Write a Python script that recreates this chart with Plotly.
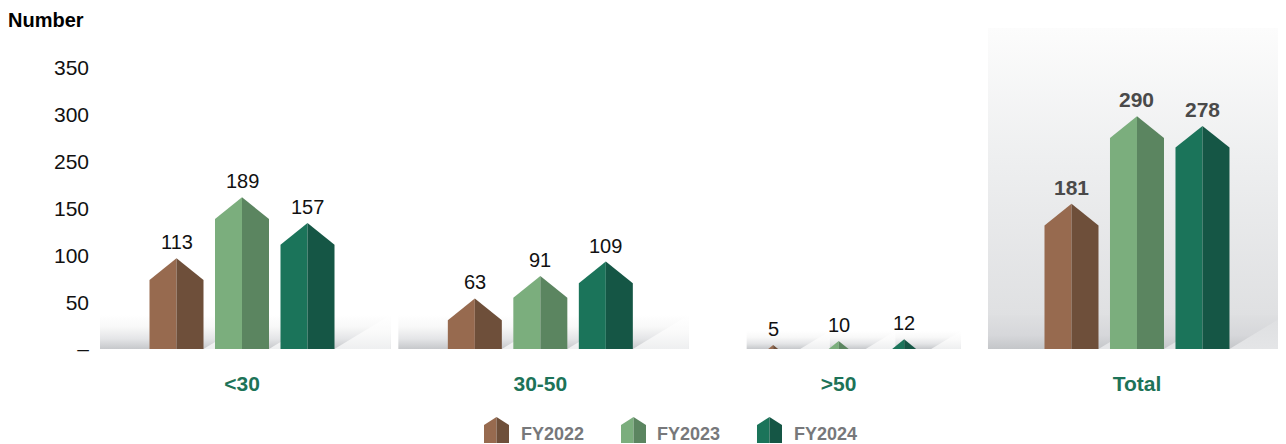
import plotly.graph_objects as go

# ---------------- data ----------------
categories = ["<30", "30-50", ">50", "Total"]
series_names = ["FY2022", "FY2023", "FY2024"]
fy2022 = [113, 63, 5, 181]
fy2023 = [189, 91, 10, 290]
fy2024 = [157, 109, 12, 278]
y_tick_labels = ["–", "50", "100", "150", "250", "300", "350"]
y_tick_top = 350

series_values = [fy2022, fy2023, fy2024]

# ---------------- styles / layout constants ----------------
OFF = 8                               # page body margin offset
W, H = 1286 - OFF, 444 - OFF
ML, MR, MT, MB = 100 - OFF, 0, 28 - OFF, 444 - 349
PW, PH = W - ML - MR, H - MT - MB
Y_MAX = 400
PXY = PH / Y_MAX                     # pixels per y unit
GROUP_PX = 298.33                    # pixels per category step
X0 = -(242 - 100) / GROUP_PX
X1 = X0 + PW / GROUP_PX

def dx(p):
    return p / GROUP_PX

def dy(p):
    return p / PXY

BAR_OFFSET = dx(65.5)
BAR_HALF = dx(27)
ROOF_H = dy(21.7)

LIGHT = ["#976a4f", "#7bae7d", "#1b745a"]
DARK = ["#6e4f3a", "#5b8560", "#155645"]
CAT_COLOR = "#1d7358"
FONT = "Liberation Sans, Arial, Helvetica, sans-serif"

FLOOR_LEFT_PX = [-142, -142, -92, -149]
FLOOR_H_PX = [34, 34, 18, 34]
SHADOW_RATIO = 1.65

fig = go.Figure()

def poly(xs, ys, **kw):
    fig.add_trace(go.Scatter(x=xs + [xs[0]], y=ys + [ys[0]], mode="lines", fill="toself",
                             line=dict(width=0, color="rgba(0,0,0,0)"), hoverinfo="skip",
                             showlegend=False, **kw))

# Total background panel
tot = len(categories) - 1
bx0 = tot + dx(FLOOR_LEFT_PX[tot])
poly([bx0, X1, X1, bx0], [0, 0, Y_MAX, Y_MAX],
     fillgradient=dict(type="vertical",
                       colorscale=[[0, "rgb(220,221,223)"], [0.6, "rgb(238,239,240)"],
                                   [1, "rgb(252,252,252)"]]))

# floor bands and shadows
for g in range(len(categories)):
    hb = dy(FLOOR_H_PX[g])
    last_right = g + BAR_OFFSET + BAR_HALF
    sx = dx(FLOOR_H_PX[g] * SHADOW_RATIO)
    xl = g + dx(FLOOR_LEFT_PX[g])
    xr = min(last_right + sx, X1)
    if g == tot:
        band_cs = [[0, "rgb(196,198,201)"], [0.4, "rgb(214,215,218)"], [1, "rgb(222,223,225)"]]
        tri_cs = [[0, "rgb(228,229,231)"], [1, "rgb(222,223,225)"]]
    else:
        band_cs = [[0, "rgb(198,200,203)"], [0.3, "rgb(228,229,231)"],
                   [0.65, "rgb(248,248,248)"], [1, "rgb(255,255,255)"]]
        tri_cs = [[0, "rgb(238,239,240)"], [0.5, "rgb(250,250,250)"], [1, "rgb(255,255,255)"]]
    poly([xl, xr, xr, xl], [0, 0, hb, hb],
         fillgradient=dict(type="vertical", colorscale=band_cs))
    for i in range(len(series_names)):
        br = g + (i - 1) * BAR_OFFSET + BAR_HALF
        tx = min(br + sx, X1)
        ty = hb * (tx - br) / sx
        poly([br, tx, tx], [0, ty, 0],
             fillgradient=dict(type="vertical", colorscale=tri_cs))

# house-shaped bars
annotations = []
for i, vals in enumerate(series_values):
    for g, v in enumerate(vals):
        xc = g + (i - 1) * BAR_OFFSET
        if v >= ROOF_H:
            hw = BAR_HALF
            left_x = [xc - hw, xc - hw, xc, xc]
            left_y = [0, v - ROOF_H, v, 0]
            right_x = [xc, xc, xc + hw, xc + hw]
            right_y = [0, v, v - ROOF_H, 0]
        else:
            w = BAR_HALF * v / ROOF_H
            left_x = [xc - w, xc, xc]
            left_y = [0, v, 0]
            right_x = [xc, xc, xc + w]
            right_y = [0, v, 0]
        poly(left_x, left_y, fillcolor=LIGHT[i])
        poly(right_x, right_y, fillcolor=DARK[i])
        is_total = (g == tot)
        annotations.append(dict(
            x=xc, y=v, xref="x", yref="y", text=(f"<b>{v}</b>" if is_total else str(v)),
            showarrow=False, yanchor="bottom", yshift=3,
            font=dict(family=FONT, size=21 if is_total else 20,
                      color="#4a4a4a" if is_total else "#111111")))

# custom legend (house icons); positions given in reference-page pixels
def px2paper(px, py):
    return (px - 100) / PW, (349 - py) / PH

shapes = []
LEG_ICON_X = [484, 621, 757]
LEG_TEXT_X = [519, 655, 792]
ICON_W, ICON_TOP, ICON_EAVE, ICON_BOT = 25, 417, 425, 443
for i, name in enumerate(series_names):
    x0 = LEG_ICON_X[i]
    xm = x0 + ICON_W / 2
    x1 = x0 + ICON_W
    pts_l = [px2paper(x0, ICON_BOT), px2paper(x0, ICON_EAVE), px2paper(xm, ICON_TOP), px2paper(xm, ICON_BOT)]
    pts_r = [px2paper(xm, ICON_BOT), px2paper(xm, ICON_TOP), px2paper(x1, ICON_EAVE), px2paper(x1, ICON_BOT)]
    for pts, col in ((pts_l, LIGHT[i]), (pts_r, DARK[i])):
        path = "M " + " L ".join(f"{a:.5f},{b:.5f}" for a, b in pts) + " Z"
        shapes.append(dict(type="path", xref="paper", yref="paper", path=path,
                           fillcolor=col, line=dict(width=0), layer="above"))
    tx, ty = px2paper(LEG_TEXT_X[i], 434)
    annotations.append(dict(x=tx, y=ty, xref="paper", yref="paper", text=f"<b>{name}</b>",
                            showarrow=False, xanchor="left", yanchor="middle",
                            font=dict(family=FONT, size=18, color="#77787b")))

tick_vals = [y_tick_top * k / (len(y_tick_labels) - 1) for k in range(len(y_tick_labels))]

fig.update_layout(
    width=W, height=H,
    margin=dict(l=ML, r=MR, t=MT, b=MB, pad=0),
    paper_bgcolor="white", plot_bgcolor="white",
    showlegend=False,
    title=dict(text="<b>Number</b>", x=0, xanchor="left", y=1 - (20 - OFF) / H, yanchor="middle",
               xref="container", yref="container",
               font=dict(family=FONT, size=20, color="#000000")),
    xaxis=dict(range=[X0, X1], tickmode="array", tickvals=list(range(len(categories))),
               ticktext=[f"<b>{c}</b>" for c in categories], showgrid=False, zeroline=False,
               showline=False, ticks="", ticklabelstandoff=20,
               tickfont=dict(family=FONT, size=21, color=CAT_COLOR), fixedrange=True),
    yaxis=dict(range=[0, Y_MAX], tickmode="array", tickvals=tick_vals, ticktext=y_tick_labels,
               showgrid=False, zeroline=False, showline=False, ticks="", ticklabelstandoff=10,
               tickfont=dict(family=FONT, size=21, color="#111111"), fixedrange=True),
    annotations=annotations,
    shapes=shapes,
)

fig.write_html("out.html")
